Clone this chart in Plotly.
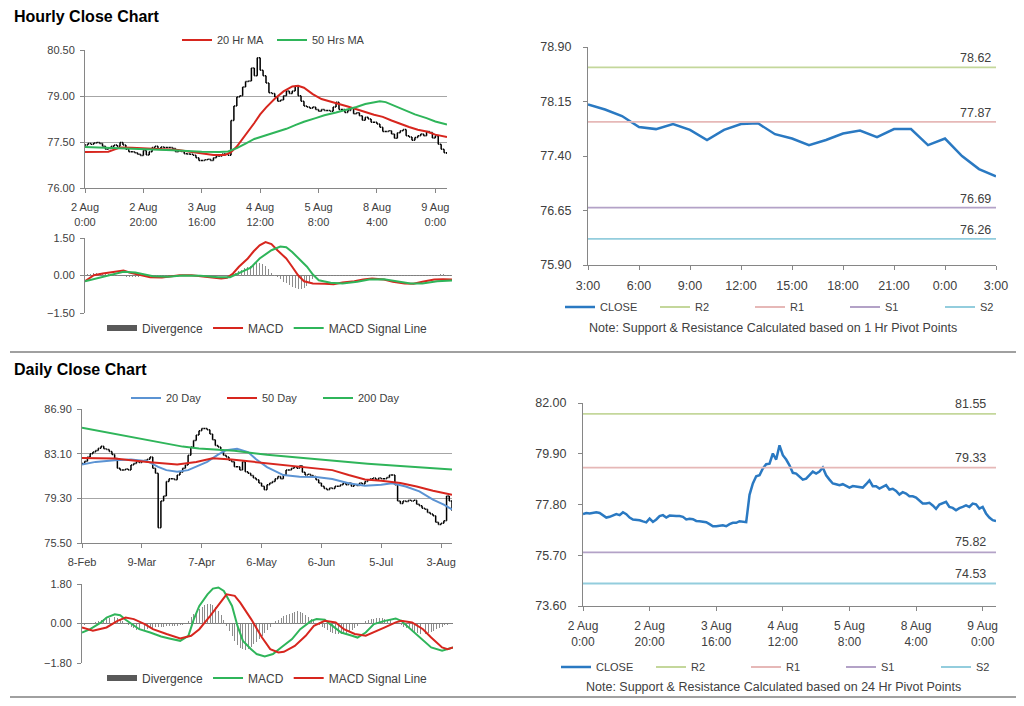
import plotly.graph_objects as go

# Page body keeps its default 8px margin, so the figure is drawn 8px in from the corner.
OFF = 8
FW, FH = 1024 - 2 * OFF, 706 - 2 * OFF
def fx(p): return (p - OFF) / FW
def fy(p): return 1 - (p - OFF) / FH

FONT = "Liberation Sans, Arial, sans-serif"
TXT = "#404040"
GRID = "#a6a6a6"
AXIS = "#868686"
RED = "#d7261e"
GREEN = "#2fb55a"
LBLUE = "#5b93d3"
CBLUE = "#2a79c2"
R2C, R1C, S1C, S2C = "#c4d79b", "#e6b8b7", "#b3a2c7", "#93cddd"
DIVC = "#8c8c8c"

# ---------------- Hourly data (2 Aug 0:00 -> 9 Aug 4:00) ----------------
hourly_tick_idx = [0, 20, 40, 60, 80, 100, 120]
hourly_tick_text = ["2 Aug<br>0:00", "2 Aug<br>20:00", "3 Aug<br>16:00", "4 Aug<br>12:00",
                    "5 Aug<br>8:00", "8 Aug<br>4:00", "9 Aug<br>0:00"]
hourly_close = [
    77.40, 77.45, 77.43, 77.47, 77.48, 77.45, 77.36, 77.26, 77.29, 77.36,
    77.40, 77.36, 77.48, 77.40, 77.26, 77.18, 77.18, 77.15, 77.10, 77.06,
    77.22, 77.08, 77.18, 77.32, 77.36, 77.26, 77.34, 77.32, 77.32, 77.32,
    77.29, 77.18, 77.21, 77.19, 77.12, 77.11, 77.10, 77.07, 76.99, 76.90,
    76.90, 76.92, 76.94, 76.90, 76.99, 77.04, 77.04, 77.11, 77.10, 77.07,
    78.20, 78.67, 78.97, 79.01, 79.29, 79.47, 79.49, 79.91, 79.66, 80.25,
    79.84, 79.66, 79.42, 79.11, 79.08, 78.97, 78.83, 78.87, 79.01, 79.16,
    79.08, 79.16, 79.33, 79.01, 78.83, 78.67, 78.64, 78.60, 78.64, 78.56,
    78.50, 78.56, 78.53, 78.53, 78.50, 78.64, 78.80, 78.56, 78.56, 78.46,
    78.53, 78.60, 78.42, 78.45, 78.36, 78.21, 78.31, 78.25, 78.14, 78.14,
    78.09, 77.98, 77.84, 77.84, 77.87, 77.76, 77.62, 77.80, 77.87, 77.91,
    77.70, 77.66, 77.56, 77.65, 77.70, 77.76, 77.70, 77.84, 77.81, 77.63,
    77.70, 77.43, 77.26, 77.15, 77.11]
hourly_idx = list(range(len(hourly_close)))

ma20h_idx = [0, 4, 8, 10, 12, 16, 20, 24, 28, 32, 36, 40, 44, 48, 50, 52, 54, 56, 58, 60, 62,
             65, 68, 71, 73, 75, 78, 81, 84, 87, 90, 93, 96, 99, 102, 105, 108, 111, 114, 117, 120, 124]
ma20h_val = [77.17, 77.17, 77.18, 77.25, 77.32, 77.31, 77.29, 77.28, 77.26, 77.24, 77.18, 77.12,
             77.08, 77.08, 77.17, 77.35, 77.60, 77.85, 78.12, 78.40, 78.62, 78.91, 79.15, 79.31,
             79.33, 79.27, 79.06, 78.90, 78.81, 78.74, 78.66, 78.58, 78.48, 78.39, 78.32, 78.20,
             78.09, 77.99, 77.90, 77.84, 77.74, 77.66]
ma50h_idx = [0, 10, 20, 30, 40, 46, 49, 52, 55, 58, 62, 65, 69, 72, 75, 79, 82, 86, 89, 93, 96,
             99, 101, 103, 106, 110, 113, 117, 120, 124]
ma50h_val = [77.34, 77.31, 77.28, 77.23, 77.18, 77.17, 77.19, 77.30, 77.45, 77.60, 77.72, 77.80,
             77.93, 78.05, 78.16, 78.28, 78.37, 78.46, 78.53, 78.64, 78.74, 78.80, 78.83, 78.80,
             78.68, 78.53, 78.40, 78.28, 78.17, 78.07]

macdh_idx = [0, 3, 6, 10, 13, 15, 19, 22, 26, 29, 32, 36, 39, 42, 46, 48, 50, 52, 55, 57, 59, 61,
             63, 65, 68, 70, 72, 74, 77, 81, 84, 87, 91, 94, 97, 101, 104, 108, 111, 114, 118, 121, 124]
macdh_val = [-0.23, 0.01, 0.08, 0.15, 0.20, 0.12, 0.01, -0.07, -0.08, -0.03, 0.01, 0.01, -0.03,
             -0.07, -0.12, -0.09, 0.08, 0.35, 0.68, 0.97, 1.21, 1.34, 1.26, 1.01, 0.68, 0.35, 0.01,
             -0.23, -0.32, -0.33, -0.35, -0.28, -0.23, -0.16, -0.12, -0.16, -0.25, -0.32, -0.33,
             -0.25, -0.16, -0.15, -0.16]
sigh_idx = [0, 4, 9, 13, 17, 20, 23, 28, 33, 39, 45, 49, 52, 56, 59, 63, 66, 68, 70, 73, 75, 77,
            79, 83, 87, 92, 96, 101, 105, 110, 114, 119, 124]
sigh_val = [-0.23, -0.12, 0.01, 0.15, 0.12, 0.04, -0.03, -0.05, 0.00, -0.01, -0.07, -0.07, 0.08,
            0.31, 0.68, 1.01, 1.16, 1.13, 0.94, 0.61, 0.35, 0.04, -0.19, -0.29, -0.32, -0.25,
            -0.16, -0.15, -0.23, -0.32, -0.32, -0.23, -0.20]
divh_val = [
    0.03, 0.05, 0.08, 0.10, 0.12, 0.12, 0.10, 0.10, 0.08, 0.06,
    0.05, 0.03, 0.00, -0.02, -0.04, -0.06, -0.07, -0.06, -0.05, -0.03,
    -0.02, -0.02, -0.02, -0.02, 0.02, 0.02, 0.02, 0.02, 0.02, 0.02,
    0.02, 0.01, 0.01, 0.01, 0.01, 0.01, 0.01, -0.02, -0.02, -0.02,
    -0.02, -0.02, -0.02, -0.02, -0.02, -0.02, -0.03, -0.02, 0.00, 0.02,
    0.06, 0.12, 0.18, 0.24, 0.30, 0.35, 0.40, 0.45, 0.50, 0.50,
    0.46, 0.38, 0.25, 0.12, 0.03, -0.06, -0.15, -0.24, -0.31, -0.38,
    -0.44, -0.49, -0.53, -0.55, -0.50, -0.40, -0.27, -0.15, -0.06, -0.02,
    0.00, 0.00, 0.01, 0.01, 0.01, 0.02, 0.03, 0.03, 0.03, 0.03,
    0.03, 0.03, 0.03, 0.03, 0.03, 0.03, 0.03, 0.03, 0.03, 0.03,
    0.03, 0.03, 0.02, 0.02, 0.02, 0.02, 0.02, 0.02, 0.02, 0.02,
    0.02, 0.02, 0.02, 0.02, 0.02, 0.02, 0.03, 0.03, 0.04, 0.04,
    0.05, 0.05, 0.04, 0.04, 0.03]

# ---------------- Last 24 hours with 1 Hr pivots ----------------
last24_labels = ["3:00", "6:00", "9:00", "12:00", "15:00", "18:00", "21:00", "0:00", "3:00"]
last24_tick_idx = [0, 3, 6, 9, 12, 15, 18, 21, 24]
last24_close = [78.11, 78.04, 77.95, 77.80, 77.77, 77.84, 77.76, 77.62, 77.76, 77.84,
                77.85, 77.70, 77.64, 77.55, 77.62, 77.71, 77.75, 77.66, 77.77, 77.77,
                77.55, 77.64, 77.40, 77.22, 77.12]
pivot1_names = ["R2", "R1", "S1", "S2"]
pivot1_vals = [78.62, 77.87, 76.69, 76.26]

# ---------------- Daily data ----------------
daily_tick_idx = [0, 22, 44, 66, 88, 110, 132]
daily_tick_text = ["8-Feb", "9-Mar", "7-Apr", "6-May", "6-Jun", "5-Jul", "3-Aug"]
daily_close = [
    82.27, 82.46, 82.82, 83.10, 83.24, 83.38, 83.57, 83.74, 83.52, 83.46,
    83.29, 83.02, 82.68, 81.85, 81.71, 81.71, 81.79, 81.71, 82.13, 82.27,
    82.41, 82.35, 82.46, 82.54, 82.63, 82.82, 81.85, 81.43, 76.80, 79.07,
    79.49, 80.74, 80.96, 80.96, 80.88, 81.29, 81.52, 81.85, 82.13, 82.96,
    83.66, 84.21, 84.68, 85.04, 85.24, 85.24, 85.13, 84.77, 84.29, 83.79,
    83.66, 83.38, 82.96, 82.82, 82.54, 82.41, 81.99, 81.99, 81.71, 82.41,
    81.57, 81.43, 81.24, 81.02, 80.88, 80.60, 80.32, 80.04, 80.46, 80.60,
    80.74, 80.96, 81.16, 80.96, 81.29, 81.71, 81.71, 81.85, 81.99, 81.85,
    82.07, 81.52, 81.29, 81.35, 81.24, 81.16, 80.88, 80.60, 80.32, 80.13,
    80.04, 80.18, 80.13, 80.32, 80.32, 80.46, 80.60, 80.46, 80.60, 80.32,
    80.46, 80.40, 80.60, 80.52, 80.74, 80.88, 80.96, 81.02, 80.88, 81.02,
    80.96, 80.96, 81.07, 81.29, 81.29, 80.46, 79.07, 78.85, 79.07, 79.02,
    79.13, 79.07, 79.13, 78.79, 78.66, 78.46, 78.38, 78.10, 77.96, 77.82,
    77.27, 77.07, 77.18, 77.40, 79.49, 79.07, 78.24]
daily_idx = list(range(len(daily_close)))

ma20d_idx = [0, 5, 12, 18, 24, 28, 31, 35, 39, 42, 46, 50, 53, 57, 61, 64, 68, 74, 80, 86, 92,
             98, 104, 110, 114, 119, 124, 129, 133, 136]
ma20d_val = [82.18, 82.40, 82.54, 82.60, 82.46, 81.98, 81.70, 81.56, 81.70, 81.98, 82.40, 83.02,
             83.40, 83.52, 83.24, 82.63, 81.95, 81.28, 81.14, 81.12, 80.95, 80.59, 80.37, 80.45,
             80.59, 80.31, 79.89, 79.19, 78.77, 78.35]
ma50d_idx = [0, 12, 24, 35, 42, 48, 55, 61, 69, 80, 92, 98, 104, 110, 117, 123, 129, 136]
ma50d_val = [82.74, 82.68, 82.40, 82.18, 82.40, 82.70, 82.60, 82.46, 82.26, 82.04, 81.70, 81.28,
             80.90, 80.79, 80.60, 80.31, 79.94, 79.61]
ma200d_idx = [0, 19, 37, 43, 56, 68, 80, 93, 105, 117, 129, 136]
ma200d_val = [85.30, 84.50, 83.70, 83.55, 83.35, 83.00, 82.75, 82.50, 82.25, 82.05, 81.85, 81.75]

macdd_idx = [0, 3, 7, 9, 12, 14, 16, 19, 21, 25, 29, 32, 36, 39, 41, 43, 46, 48, 50, 52, 55, 57,
             59, 62, 64, 67, 70, 73, 77, 80, 84, 86, 89, 91, 95, 99, 101, 104, 107, 111, 115, 117,
             121, 125, 128, 132, 134, 136]
macdd_val = [-0.41, -0.26, 0.05, 0.27, 0.42, 0.38, 0.17, -0.11, -0.26, -0.41, -0.59, -0.68, -0.79,
             -0.56, 0.20, 0.80, 1.33, 1.59, 1.64, 1.48, 0.80, -0.11, -0.79, -1.17, -1.39, -1.50,
             -1.39, -1.09, -0.71, -0.26, 0.12, 0.20, 0.17, -0.03, -0.41, -0.56, -0.64, -0.41,
             -0.03, 0.12, 0.23, 0.12, -0.33, -0.79, -1.09, -1.24, -1.17, -1.09]
sigd_idx = [0, 4, 9, 13, 16, 19, 23, 26, 31, 36, 40, 43, 47, 51, 53, 56, 58, 62, 66, 69, 72, 74,
            78, 82, 85, 89, 93, 96, 100, 104, 107, 111, 115, 117, 121, 125, 128, 132, 134, 136]
sigd_val = [-0.18, -0.33, -0.18, 0.12, 0.27, 0.20, -0.03, -0.26, -0.48, -0.68, -0.56, -0.26, 0.35,
            1.03, 1.33, 1.26, 0.95, 0.20, -0.64, -1.17, -1.32, -1.29, -1.02, -0.56, -0.11, 0.12,
            0.05, -0.26, -0.48, -0.56, -0.41, -0.18, 0.05, 0.12, 0.05, -0.26, -0.64, -1.09,
            -1.17, -1.09]
divd_val = [
    -0.05, -0.05, -0.03, 0.00, 0.03, 0.06, 0.10, 0.15, 0.20, 0.24,
    0.27, 0.28, 0.28, 0.25, 0.20, 0.12, 0.04, -0.05, -0.15, -0.22,
    -0.28, -0.30, -0.30, -0.28, -0.25, -0.22, -0.20, -0.18, -0.17, -0.15,
    -0.14, -0.13, -0.12, -0.11, -0.10, -0.10, -0.09, -0.05, 0.00, 0.12,
    0.28, 0.45, 0.58, 0.68, 0.76, 0.83, 0.88, 0.90, 0.85, 0.75,
    0.58, 0.38, 0.15, -0.10, -0.35, -0.58, -0.80, -0.98, -1.10, -1.18,
    -1.20, -1.15, -1.05, -0.95, -0.85, -0.72, -0.58, -0.42, -0.28, -0.14,
    0.00, 0.10, 0.18, 0.25, 0.32, 0.38, 0.44, 0.49, 0.53, 0.55,
    0.53, 0.48, 0.40, 0.30, 0.20, 0.10, 0.02, -0.06, -0.14, -0.22,
    -0.30, -0.37, -0.43, -0.48, -0.50, -0.50, -0.47, -0.42, -0.35, -0.28,
    -0.20, -0.12, -0.04, 0.04, 0.10, 0.15, 0.19, 0.22, 0.24, 0.25,
    0.24, 0.22, 0.18, 0.14, 0.09, 0.04, -0.02, -0.08, -0.14, -0.20,
    -0.26, -0.32, -0.38, -0.43, -0.46, -0.48, -0.48, -0.45, -0.40, -0.34,
    -0.27, -0.20, -0.14, -0.09, -0.05, -0.03, -0.02]

# ---------------- Hourly close with 24 Hr pivots ----------------
pivot24_names = ["R2", "R1", "S1", "S2"]
pivot24_vals = [81.55, 79.33, 75.82, 74.53]

fig = go.Figure()

# --- Top-left: hourly bars + MAs ---
h_open = [hourly_close[0]] + hourly_close[:-1]
fig.add_trace(go.Ohlc(
    x=hourly_idx, open=h_open, close=hourly_close,
    high=[max(o, c) for o, c in zip(h_open, hourly_close)],
    low=[min(o, c) for o, c in zip(h_open, hourly_close)],
    increasing=dict(line=dict(color="black", width=1.5)),
    decreasing=dict(line=dict(color="black", width=1.5)),
    tickwidth=0.4, showlegend=False, hoverinfo="skip", xaxis="x", yaxis="y"))
fig.add_trace(go.Scatter(x=ma20h_idx, y=ma20h_val, mode="lines", name="20 Hr MA",
                         line=dict(color=RED, width=2), xaxis="x", yaxis="y", legend="legend"))
fig.add_trace(go.Scatter(x=ma50h_idx, y=ma50h_val, mode="lines", name="50 Hrs MA",
                         line=dict(color=GREEN, width=2), xaxis="x", yaxis="y", legend="legend"))

# --- Top-left MACD ---
fig.add_trace(go.Bar(x=hourly_idx, y=divh_val, marker=dict(color=DIVC, line=dict(width=0)),
                     width=0.35, showlegend=False, xaxis="x2", yaxis="y2"))
fig.add_trace(go.Scatter(x=[None], y=[None], mode="lines", name="Divergence",
                         line=dict(color="#595959", width=6), xaxis="x2", yaxis="y2", legend="legend2"))
fig.add_trace(go.Scatter(x=macdh_idx, y=macdh_val, mode="lines", name="MACD",
                         line=dict(color=RED, width=2), xaxis="x2", yaxis="y2", legend="legend2"))
fig.add_trace(go.Scatter(x=sigh_idx, y=sigh_val, mode="lines", name="MACD Signal Line",
                         line=dict(color=GREEN, width=2), xaxis="x2", yaxis="y2", legend="legend2"))

# --- Top-right ---
x24 = list(range(len(last24_close)))
fig.add_trace(go.Scatter(x=x24, y=last24_close, mode="lines", name="CLOSE",
                         line=dict(color=CBLUE, width=2.5), xaxis="x3", yaxis="y3", legend="legend3"))
for nm, v, c in zip(pivot1_names, pivot1_vals, [R2C, R1C, S1C, S2C]):
    fig.add_trace(go.Scatter(x=[x24[0], x24[-1]], y=[v, v], mode="lines", name=nm,
                             line=dict(color=c, width=1.8), xaxis="x3", yaxis="y3", legend="legend3"))

# --- Bottom-left daily ---
d_open = [daily_close[0]] + daily_close[:-1]
fig.add_trace(go.Ohlc(
    x=daily_idx, open=d_open, close=daily_close,
    high=[max(o, c) for o, c in zip(d_open, daily_close)],
    low=[min(o, c) for o, c in zip(d_open, daily_close)],
    increasing=dict(line=dict(color="black", width=1.5)),
    decreasing=dict(line=dict(color="black", width=1.5)),
    tickwidth=0.4, showlegend=False, hoverinfo="skip", xaxis="x4", yaxis="y4"))
fig.add_trace(go.Scatter(x=ma20d_idx, y=ma20d_val, mode="lines", name="20 Day",
                         line=dict(color=LBLUE, width=2), xaxis="x4", yaxis="y4", legend="legend4"))
fig.add_trace(go.Scatter(x=ma50d_idx, y=ma50d_val, mode="lines", name="50 Day",
                         line=dict(color=RED, width=2), xaxis="x4", yaxis="y4", legend="legend4"))
fig.add_trace(go.Scatter(x=ma200d_idx, y=ma200d_val, mode="lines", name="200 Day",
                         line=dict(color=GREEN, width=2), xaxis="x4", yaxis="y4", legend="legend4"))

# --- Bottom-left MACD ---
fig.add_trace(go.Bar(x=daily_idx, y=divd_val, marker=dict(color=DIVC, line=dict(width=0)),
                     width=0.35, showlegend=False, xaxis="x5", yaxis="y5"))
fig.add_trace(go.Scatter(x=[None], y=[None], mode="lines", name="Divergence",
                         line=dict(color="#595959", width=6), xaxis="x5", yaxis="y5", legend="legend5"))
fig.add_trace(go.Scatter(x=macdd_idx, y=macdd_val, mode="lines", name="MACD",
                         line=dict(color=GREEN, width=2), xaxis="x5", yaxis="y5", legend="legend5"))
fig.add_trace(go.Scatter(x=sigd_idx, y=sigd_val, mode="lines", name="MACD Signal Line",
                         line=dict(color=RED, width=2), xaxis="x5", yaxis="y5", legend="legend5"))

# --- Bottom-right ---
fig.add_trace(go.Scatter(x=hourly_idx, y=hourly_close, mode="lines", name="CLOSE",
                         line=dict(color=CBLUE, width=2.5), xaxis="x6", yaxis="y6", legend="legend6"))
for nm, v, c in zip(pivot24_names, pivot24_vals, [R2C, R1C, S1C, S2C]):
    fig.add_trace(go.Scatter(x=[hourly_idx[0], hourly_idx[-1]], y=[v, v], mode="lines", name=nm,
                             line=dict(color=c, width=1.8), xaxis="x6", yaxis="y6", legend="legend6"))


def yleft(dom, rng, dt, anchor, grid=True, size=11, standoff=3):
    return dict(domain=dom, range=rng, tick0=rng[0], dtick=dt, tickformat=".2f", anchor=anchor,
                showgrid=grid, gridcolor=GRID, gridwidth=1, showline=True, linecolor=AXIS,
                ticks="outside", ticklen=4, tickcolor=AXIS, zeroline=False, ticklabelstandoff=standoff,
                tickfont=dict(size=size, color=TXT, family=FONT), fixedrange=True)


def xax(dom, rng, anchor, tv=None, tt=None, show=True, size=11, standoff=0, line=True):
    d = dict(domain=dom, range=rng, anchor=anchor, showgrid=False, zeroline=False,
             showline=line, linecolor=AXIS, fixedrange=True,
             rangeslider=dict(visible=False),
             tickfont=dict(size=size, color=TXT, family=FONT))
    if show:
        d.update(tickmode="array", tickvals=tv, ticktext=tt, ticks="outside", ticklen=4,
                 tickcolor=AXIS, ticklabelstandoff=standoff)
    else:
        d.update(showticklabels=False, ticks="")
    return d


def leg(x, y, ew=None, size=11):
    d = dict(orientation="h", x=fx(x), y=fy(y), xanchor="left", yanchor="middle",
             bgcolor="rgba(0,0,0,0)", font=dict(size=size, color=TXT, family=FONT),
             itemwidth=30, traceorder="normal", itemclick=False, itemdoubleclick=False)
    if ew:
        d.update(entrywidth=ew, entrywidthmode="pixels")
    return d


fig.update_layout(
    width=FW, height=FH, autosize=False,
    margin=dict(l=0, r=0, t=0, b=0, autoexpand=False),
    paper_bgcolor="white", plot_bgcolor="white",
    font=dict(family=FONT, color=TXT),
    bargap=0,
    xaxis=xax([fx(85), fx(447)], [0, hourly_idx[-1]], "y", hourly_tick_idx, hourly_tick_text, standoff=5),
    yaxis=yleft([fy(188), fy(50)], [76.0, 80.5], 1.5, "x"),
    xaxis2=xax([fx(85), fx(452)], [0, hourly_idx[-1]], "y2", show=False, line=False),
    yaxis2=yleft([fy(313), fy(238)], [-1.5, 1.5], 1.5, "x2"),
    xaxis3=xax([fx(588), fx(996)], [0, x24[-1]], "y3", last24_tick_idx, last24_labels, size=12.5, standoff=5),
    yaxis3=yleft([fy(265), fy(47)], [75.9, 78.9], 0.75, "x3", grid=False, size=12.5, standoff=9),
    xaxis4=xax([fx(82), fx(452)], [0, daily_idx[-1]], "y4", daily_tick_idx, daily_tick_text, standoff=5),
    yaxis4=yleft([fy(543), fy(409)], [75.5, 86.9], 3.8, "x4"),
    xaxis5=xax([fx(82), fx(453)], [0, daily_idx[-1]], "y5", show=False, line=False),
    yaxis5=yleft([fy(663), fy(584)], [-1.8, 1.8], 1.8, "x5"),
    xaxis6=xax([fx(583), fx(996)], [0, hourly_idx[-1]], "y6", hourly_tick_idx, hourly_tick_text, size=12, standoff=5),
    yaxis6=yleft([fy(606), fy(403)], [73.6, 82.0], 2.1, "x6", grid=False, size=12.5, standoff=9),
    legend=leg(177, 40, 50),
    legend2=leg(102, 328, size=12),
    legend3=leg(560, 307, 50),
    legend4=leg(126, 398, 51),
    legend5=leg(102, 678, size=12),
    legend6=leg(556, 667, 50),
)

fig.update_layout(yaxis2=dict(zeroline=True, zerolinecolor="#7f7f7f", zerolinewidth=1),
                  yaxis5=dict(zeroline=True, zerolinecolor="#7f7f7f", zerolinewidth=1))

ann = [
    dict(text="<b>Hourly Close Chart</b>", x=fx(12), y=fy(16), xref="paper", yref="paper",
         xanchor="left", yanchor="middle", showarrow=False, font=dict(size=16, color="black", family=FONT)),
    dict(text="<b>Daily Close Chart</b>", x=fx(12), y=fy(369), xref="paper", yref="paper",
         xanchor="left", yanchor="middle", showarrow=False, font=dict(size=16, color="black", family=FONT)),
    dict(text="Note: Support & Resistance Calculated based on 1 Hr Pivot Points", x=fx(773), y=fy(328),
         xref="paper", yref="paper", xanchor="center", yanchor="middle", showarrow=False,
         font=dict(size=12.5, color=TXT, family=FONT)),
    dict(text="Note: Support & Resistance Calculated based on 24 Hr Pivot Points", x=fx(773), y=fy(687),
         xref="paper", yref="paper", xanchor="center", yanchor="middle", showarrow=False,
         font=dict(size=12.5, color=TXT, family=FONT)),
]
for v in pivot1_vals:
    ann.append(dict(text=f"{v:.2f}", x=fx(975), xref="paper", y=v, yref="y3", xanchor="center",
                    yanchor="bottom", yshift=0, showarrow=False, font=dict(size=12.5, color=TXT, family=FONT)))
for v in pivot24_vals:
    ann.append(dict(text=f"{v:.2f}", x=fx(970), xref="paper", y=v, yref="y6", xanchor="center",
                    yanchor="bottom", yshift=1, showarrow=False, font=dict(size=12.5, color=TXT, family=FONT)))
fig.update_layout(annotations=ann)

shapes = [
    dict(type="line", xref="paper", yref="paper", x0=fx(10), x1=fx(1022), y0=fy(352), y1=fy(352),
         line=dict(color="#a0a0a0", width=2)),
    dict(type="line", xref="paper", yref="paper", x0=fx(10), x1=fx(1022), y0=fy(697), y1=fy(697),
         line=dict(color="#a0a0a0", width=2)),
]
fig.update_layout(shapes=shapes)

fig.write_html("out.html", config={"displayModeBar": False, "staticPlot": True})
